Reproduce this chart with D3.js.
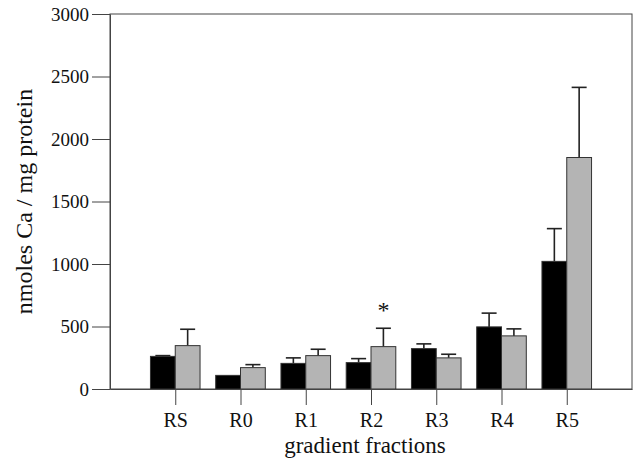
<!DOCTYPE html>
<meta charset="utf-8">
<script src="https://d3js.org/d3.v7.min.js"></script>
<style>
  body { margin: 0; background: #fff; }
  svg text { font-family: "Liberation Serif", "Times New Roman", serif; fill: #111; }
</style>
<body>
<div id="chart"></div>
<script>

// fractions on the gradient
var categories = ["RS", "R0", "R1", "R2", "R3", "R4", "R5"];

// black series (mean and upper error)
var blackMean = [261, 109, 205, 211, 323, 497, 1021];
var blackErr  = [6, 0, 44, 32, 38, 110, 262];

// grey series (mean and upper error)
var greyMean = [347, 171, 267, 339, 249, 425, 1852];
var greyErr  = [131, 24, 51, 147, 29, 56, 561];

// fractions marked with a star on the grey bar
var starred = ["R2"];

var yTicks = [0, 500, 1000, 1500, 2000, 2500, 3000];

var serif = '"Liberation Serif", "Times New Roman", serif';

var margin = {top: 14, right: 3, bottom: 72, left: 110},
    width = 635 - margin.left - margin.right,
    height = 461 - margin.top - margin.bottom;

var svg = d3.select("#chart")
  .append("svg")
    .attr("width", width + margin.left + margin.right)
    .attr("height", height + margin.top + margin.bottom)
  .append("g")
    .attr("transform", "translate(" + margin.left + "," + margin.top + ")");

var x = d3.scalePoint()
  .domain(categories)
  .range([0, width])
  .padding(1);

var y = d3.scaleLinear()
  .domain([0, 3000])
  .range([height, 0]);

var barW = x.step() * 0.38;

var series = d3.scaleOrdinal()
  .domain(["black", "grey"])
  .range([-barW, 0]);

var rows = categories.map(function(c, i) {
  return [
    {cat: c, s: "black", v: blackMean[i], e: blackErr[i], fill: "#000"},
    {cat: c, s: "grey", v: greyMean[i], e: greyErr[i], fill: "#b4b4b4"}
  ];
}).flat();

// frame: top and right sides
svg.append("rect")
  .attr("x", 0).attr("y", 0)
  .attr("width", width).attr("height", height)
  .attr("fill", "none")
  .attr("stroke", "#444")
  .attr("stroke-width", 1);

// error bars first so the bar covers the stem
var err = svg.selectAll(".err")
  .data(rows.filter(function(d) { return d.e > 0; }))
  .enter().append("g")
  .attr("class", "err")
  .attr("stroke", "#222")
  .attr("stroke-width", 1.6);

err.append("line")
  .attr("x1", function(d) { return x(d.cat) + series(d.s) + barW / 2; })
  .attr("x2", function(d) { return x(d.cat) + series(d.s) + barW / 2; })
  .attr("y1", function(d) { return y(d.v); })
  .attr("y2", function(d) { return y(d.v + d.e); });

err.append("line")
  .attr("x1", function(d) { return x(d.cat) + series(d.s) + barW / 2 - 7.5; })
  .attr("x2", function(d) { return x(d.cat) + series(d.s) + barW / 2 + 7.5; })
  .attr("y1", function(d) { return y(d.v + d.e); })
  .attr("y2", function(d) { return y(d.v + d.e); });

svg.selectAll(".bar")
  .data(rows)
  .enter().append("rect")
  .attr("class", "bar")
  .attr("x", function(d) { return x(d.cat) + series(d.s); })
  .attr("y", function(d) { return y(d.v); })
  .attr("width", barW)
  .attr("height", function(d) { return y(0) - y(d.v); })
  .attr("fill", function(d) { return d.fill; })
  .attr("stroke", "#333")
  .attr("stroke-width", 1);

// significance star
svg.selectAll(".star")
  .data(rows.filter(function(d) { return d.s == "grey" && starred.indexOf(d.cat) >= 0; }))
  .enter().append("text")
  .attr("class", "star")
  .attr("x", function(d) { return x(d.cat) + series(d.s) + barW / 2; })
  .attr("y", function(d) { return y(d.v + d.e) - 10; })
  .attr("text-anchor", "middle")
  .style("font-family", serif)
  .style("font-size", "24px")
  .text("*");

// axes
var yAxis = svg.append("g")
  .call(d3.axisLeft(y).tickValues(yTicks).tickFormat(d3.format("d"))
    .tickSize(18).tickPadding(3).tickSizeOuter(0))
  .attr("font-family", serif);
yAxis.select(".domain").attr("stroke", "#444");
yAxis.selectAll(".tick line").attr("stroke", "#444");
yAxis.selectAll("text")
  .style("font-family", serif)
  .style("font-size", "19px")
  .attr("fill", "#111");

var xAxis = svg.append("g")
  .attr("transform", "translate(0," + height + ")")
  .call(d3.axisBottom(x).tickSize(16).tickPadding(8).tickSizeOuter(0))
  .attr("font-family", serif);
xAxis.select(".domain").attr("stroke", "#444");
xAxis.selectAll(".tick line").attr("stroke", "#444");
xAxis.selectAll("text")
  .style("font-family", serif)
  .style("font-size", "20px")
  .attr("fill", "#111");

// axis titles
svg.append("text")
  .attr("text-anchor", "middle")
  .attr("transform", "translate(" + (-78) + "," + (height / 2) + ")rotate(-90)")
  .style("font-family", serif)
  .style("font-size", "24px")
  .text("nmoles Ca / mg protein");

svg.append("text")
  .attr("text-anchor", "middle")
  .attr("x", width / 2 - 6)
  .attr("y", height + 64)
  .style("font-family", serif)
  .style("font-size", "23px")
  .text("gradient fractions");

</script>
</body>
